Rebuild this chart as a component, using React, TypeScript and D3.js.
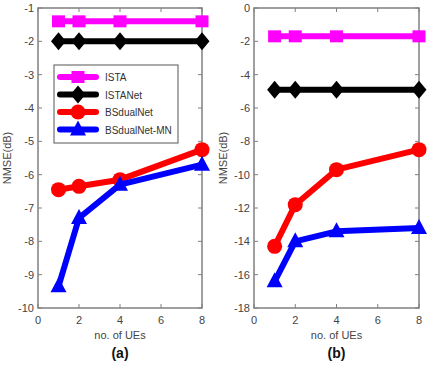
import React from "react";
import * as d3 from "d3";

const ues = [1, 2, 4, 8];
const seriesNames = ["ISTA", "ISTANet", "BSdualNet", "BSdualNet-MN"];
const seriesColors = ["#ff00ff", "#000000", "#ff0000", "#0000ff"];
const seriesMarkers = ["square", "diamond", "circle", "triangle"];

// panel (a)
const istaA = [-1.4, -1.4, -1.4, -1.4];
const istaNetA = [-2.0, -2.0, -2.0, -2.0];
const bsdualA = [-6.45, -6.35, -6.15, -5.25];
const bsdualMnA = [-9.35, -7.3, -6.3, -5.7];
const yTicksA = [-10, -9, -8, -7, -6, -5, -4, -3, -2, -1];

// panel (b)
const istaB = [-1.7, -1.7, -1.7, -1.7];
const istaNetB = [-4.9, -4.9, -4.9, -4.9];
const bsdualB = [-14.3, -11.8, -9.7, -8.5];
const bsdualMnB = [-16.4, -14.0, -13.4, -13.2];
const yTicksB = [-18, -16, -14, -12, -10, -8, -6, -4, -2, 0];

const xTicks = [0, 2, 4, 6, 8];

const FONT = "'Liberation Sans', Arial, sans-serif";

const Marker = ({ kind, x, y, color }: { kind: string; x: number; y: number; color: string }) => {
  if (kind === "square") return <rect x={x - 6.5} y={y - 6} width={13} height={12} fill={color} />;
  if (kind === "diamond")
    return <path d={`M${x},${y - 9}L${x + 7.5},${y}L${x},${y + 9}L${x - 7.5},${y}Z`} fill={color} />;
  if (kind === "circle") return <circle cx={x} cy={y} r={7.5} fill={color} />;
  return <path d={`M${x},${y - 9}L${x + 8},${y + 6}L${x - 8},${y + 6}Z`} fill={color} />;
};

type PanelProps = {
  left: number;
  right: number;
  domain: [number, number];
  yTicks: number[];
  series: number[][];
  label: string;
  legend?: boolean;
};

const Panel = ({ left, right, domain, yTicks, series, label, legend }: PanelProps) => {
  const top = 8;
  const bottom = 308;
  const x = d3.scaleLinear().domain([0, 8]).range([left, right]);
  const y = d3.scaleLinear().domain(domain).range([bottom, top]);
  const line = d3
    .line<number>()
    .x((d, i) => x(ues[i]))
    .y(d => y(d));
  const mid = (left + right) / 2;

  return (
    <g fontFamily={FONT}>
      <rect x={left} y={top} width={right - left} height={bottom - top} fill="white" stroke="#808080" strokeWidth={1.5} />
      {xTicks.map(t => (
        <g key={"x" + t}>
          <line x1={x(t)} x2={x(t)} y1={bottom} y2={bottom - 4} stroke="#808080" />
          <line x1={x(t)} x2={x(t)} y1={top} y2={top + 4} stroke="#808080" />
          <text x={x(t)} y={bottom + 16} textAnchor="middle" fontSize={11} fill="#444">
            {t}
          </text>
        </g>
      ))}
      {yTicks.map(t => (
        <g key={"y" + t}>
          <line x1={left} x2={left + 4} y1={y(t)} y2={y(t)} stroke="#808080" />
          <line x1={right} x2={right - 4} y1={y(t)} y2={y(t)} stroke="#808080" />
          <text x={left - 4} y={y(t) + 4} textAnchor="end" fontSize={11} fill="#444">
            {t}
          </text>
        </g>
      ))}
      {series.map((s, si) => (
        <g key={"s" + si}>
          <path d={line(s) || ""} fill="none" stroke={seriesColors[si]} strokeWidth={6} strokeLinejoin="round" />
          {s.map((v, i) => (
            <Marker key={i} kind={seriesMarkers[si]} x={x(ues[i])} y={y(v)} color={seriesColors[si]} />
          ))}
        </g>
      ))}
      <text
        transform={`translate(${left - 27},${(top + bottom) / 2}) rotate(-90)`}
        textAnchor="middle"
        fontSize={11}
        fill="#444"
      >
        NMSE(dB)
      </text>
      <text x={mid} y={339} textAnchor="middle" fontSize={11} fill="#444">
        no. of UEs
      </text>
      <text x={mid} y={358} textAnchor="middle" fontSize={14} fontWeight="bold" fill="#111">
        {label}
      </text>
      {legend && (
        <g>
          <rect x={54} y={65} width={124} height={78} fill="white" stroke="#555" strokeWidth={1} />
          {seriesNames.map((n, i) => {
            const ly = [77, 94.5, 112, 129.5][i];
            return (
              <g key={n}>
                <line x1={60} x2={96} y1={ly} y2={ly} stroke={seriesColors[i]} strokeWidth={6} strokeLinecap="round" />
                <Marker kind={seriesMarkers[i]} x={78} y={ly} color={seriesColors[i]} />
                <text x={105} y={ly + 4} fontSize={10} fill="#333">
                  {n}
                </text>
              </g>
            );
          })}
        </g>
      )}
    </g>
  );
};

const App = () => {
  return (
    <svg width={431} height={370} style={{ position: "absolute", left: 0, top: 0, background: "white" }}>
      <Panel
        left={38}
        right={202}
        domain={[-10, -1]}
        yTicks={yTicksA}
        series={[istaA, istaNetA, bsdualA, bsdualMnA]}
        label="(a)"
        legend
      />
      <Panel
        left={254}
        right={419}
        domain={[-18, 0]}
        yTicks={yTicksB}
        series={[istaB, istaNetB, bsdualB, bsdualMnB]}
        label="(b)"
      />
    </svg>
  );
};

export default App;
